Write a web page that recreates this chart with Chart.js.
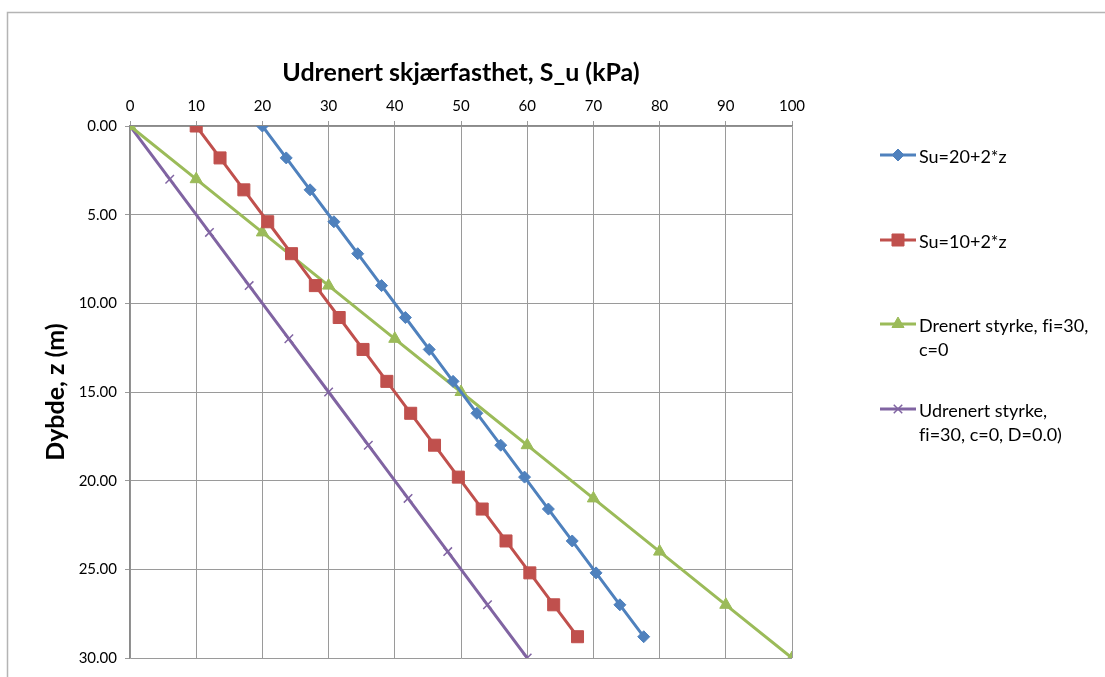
<!DOCTYPE html>
<html>
<head>
<meta charset="utf-8">
<script src="https://cdn.jsdelivr.net/npm/chart.js@4.4.0/dist/chart.umd.min.js"></script>
<style>
  html, body { margin: 0; padding: 0; background: #fff; }
  #wrap { position: relative; width: 1105px; height: 677px; }
</style>
</head>
<body>
<div id="wrap"><canvas id="chart" width="1105" height="677"></canvas></div>
<script>
// Depth (m) and shear strength (kPa)
const depthsA = [0, 1.8, 3.6, 5.4, 7.2, 9, 10.8, 12.6, 14.4, 16.2, 18, 19.8, 21.6, 23.4, 25.2, 27, 28.8];
const su20 = [20, 23.6, 27.2, 30.8, 34.4, 38, 41.6, 45.2, 48.8, 52.4, 56, 59.6, 63.2, 66.8, 70.4, 74, 77.6];
const su10 = [10, 13.6, 17.2, 20.8, 24.4, 28, 31.6, 35.2, 38.8, 42.4, 46, 49.6, 53.2, 56.8, 60.4, 64, 67.6];
const depthsB = [0, 3, 6, 9, 12, 15, 18, 21, 24, 27, 30];
const drained = [0, 10, 20, 30, 40, 50, 60, 70, 80, 90, 100];
const undrained = [0, 6, 12, 18, 24, 30, 36, 42, 48, 54, 60];

const seriesNames = ['Su=20+2*z', 'Su=10+2*z', 'Drenert styrke, fi=30, c=0', 'Udrenert styrke, fi=30, c=0, D=0.0)'];
// wrapped like the Excel legend; \u200C keeps "f" and "i" from joining into a ligature
const legendLines = [['Su=20+2*z'], ['Su=10+2*z'], ['Drenert styrke, f\u200Ci=30,', 'c=0'], ['Udrenert styrke,', 'f\u200Ci=30, c=0, D=0.0)']];
const colors = ['#4F81BD', '#C0504D', '#9BBB59', '#8064A2'];

const xTitle = 'Udrenert skjærfasthet, S_u (kPa)';
const yTitle = 'Dybde, z (m)';

const FONT = 'Lato, "Noto Sans", sans-serif';

function pairs(xs, ys) {
    return xs.map((x, i) => ({ x: x, y: ys[i] }));
}

const markers = [
    { style: 'rectRot', radius: 6, border: 1 },
    { style: 'rect', radius: 8.5, border: 1 },
    { style: 'triangle', radius: 7, border: 1 },
    { style: 'crossRot', radius: 6, border: 1.5 }
];

const seriesData = [pairs(su20, depthsA), pairs(su10, depthsA), pairs(drained, depthsB), pairs(undrained, depthsB)];

const datasets = seriesData.map((d, i) => ({
    label: seriesNames[i],
    data: d,
    showLine: true,
    borderColor: colors[i],
    backgroundColor: colors[i],
    borderWidth: 3,
    pointStyle: markers[i].style,
    pointRadius: markers[i].radius,
    pointHoverRadius: markers[i].radius,
    pointBorderWidth: markers[i].border,
    pointBackgroundColor: colors[i],
    pointBorderColor: colors[i]
}));

// outer frame (only top and left edges are inside the picture)
const framePlugin = {
    id: 'frame',
    beforeDraw(chart) {
        const ctx = chart.ctx;
        ctx.save();
        ctx.strokeStyle = '#b4b4b4';
        ctx.lineWidth = 1.5;
        ctx.beginPath();
        ctx.moveTo(7.5, 700);
        ctx.lineTo(7.5, 12.5);
        ctx.lineTo(1200, 12.5);
        ctx.stroke();
        ctx.restore();
    }
};

// legend on the right, Excel style
const legendPlugin = {
    id: 'sideLegend',
    afterDraw(chart) {
        const ctx = chart.ctx;
        const x0 = 880, x1 = 916, tx = 919;
        const rows = [155, 240, 324, 409];
        ctx.save();
        ctx.font = '18px ' + FONT;
        ctx.textBaseline = 'middle';
        rows.forEach((y, i) => {
            ctx.strokeStyle = colors[i];
            ctx.lineWidth = 3;
            ctx.beginPath();
            ctx.moveTo(x0, y);
            ctx.lineTo(x1, y);
            ctx.stroke();
            ctx.fillStyle = colors[i];
            ctx.lineWidth = markers[i].border;
            Chart.helpers.drawPoint(ctx, { pointStyle: markers[i].style, radius: markers[i].radius, rotation: 0, borderWidth: markers[i].border }, (x0 + x1) / 2, y);
            ctx.fillStyle = '#000';
            legendLines[i].forEach((line, k) => ctx.fillText(line, tx, y + 2 + k * 24));
        });
        ctx.restore();
    }
};

new Chart(document.getElementById('chart'), {
    type: 'scatter',
    data: { datasets },
    plugins: [framePlugin, legendPlugin],
    options: {
        responsive: false,
        animation: false,
        layout: { padding: { left: 40, top: 40, right: 313, bottom: 19 } },
        plugins: {
            legend: { display: false },
            tooltip: { enabled: false }
        },
        scales: {
            x: {
                position: 'top',
                min: 0,
                max: 100,
                afterFit(scale) { scale.height = 86; },
                ticks: { stepSize: 10, padding: 6, color: '#000', font: { family: FONT, size: 15 } },
                grid: { color: '#9a9a9a', lineWidth: 1, tickLength: 5 },
                border: { color: '#8a8a8a', width: 1.5 },
                title: { display: true, text: xTitle, color: '#000', padding: { top: 18, bottom: 0 }, font: { family: FONT, size: 25, weight: 'bold' } }
            },
            y: {
                reverse: true,
                min: 0,
                max: 30,
                afterFit(scale) { scale.width = 90; },
                ticks: { stepSize: 5, padding: 8, color: '#000', font: { family: FONT, size: 15 }, callback: v => v.toFixed(2) },
                grid: { color: '#9a9a9a', lineWidth: 1, tickLength: 5 },
                border: { color: '#8a8a8a', width: 1.5 },
                title: { display: true, text: yTitle, color: '#000', padding: { top: 1, bottom: 0 }, font: { family: FONT, size: 25, weight: 'bold' } }
            }
        }
    }
});
</script>
</body>
</html>
